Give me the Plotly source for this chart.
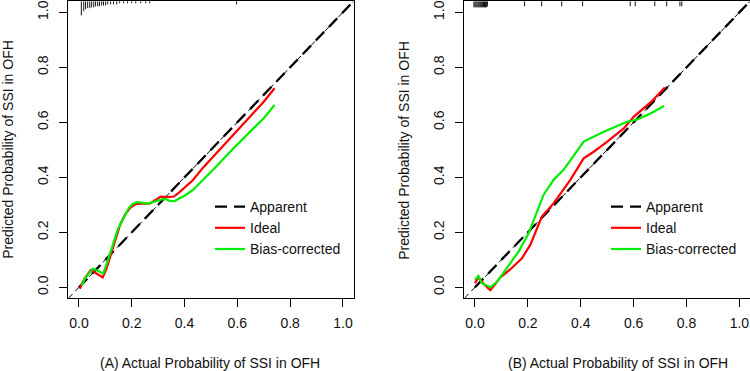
import plotly.graph_objects as go

# ---------------- data ----------------
# Panel A
a_ideal_x = [0.003, 0.02, 0.045, 0.065, 0.09, 0.105, 0.122, 0.14, 0.155, 0.175, 0.195, 0.215, 0.24, 0.27,
             0.29, 0.31, 0.335, 0.36, 0.38, 0.40, 0.432, 0.47, 0.52, 0.58, 0.647, 0.70, 0.741]
a_ideal_y = [-0.005, 0.03, 0.063, 0.05, 0.036, 0.07, 0.125, 0.18, 0.225, 0.265, 0.29, 0.303, 0.305, 0.305,
             0.318, 0.33, 0.328, 0.33, 0.345, 0.362, 0.39, 0.435, 0.487, 0.55, 0.62, 0.675, 0.724]
a_bias_x = [0.009, 0.025, 0.053, 0.075, 0.092, 0.11, 0.13, 0.148, 0.17, 0.19, 0.205, 0.223, 0.26, 0.3,
            0.324, 0.345, 0.362, 0.381, 0.40, 0.432, 0.47, 0.52, 0.58, 0.647, 0.70, 0.741]
a_bias_y = [0.007, 0.035, 0.068, 0.058, 0.05, 0.1, 0.16, 0.213, 0.255, 0.29, 0.304, 0.31, 0.304, 0.316,
            0.322, 0.314, 0.313, 0.324, 0.333, 0.354, 0.39, 0.439, 0.5, 0.566, 0.615, 0.663]
a_rug_x = [0.009, 0.018, 0.025, 0.033, 0.041, 0.048, 0.056, 0.063, 0.071, 0.078, 0.086, 0.093, 0.101,
           0.109, 0.12, 0.131, 0.143, 0.154, 0.169, 0.184, 0.2, 0.215, 0.234, 0.253, 0.268, 0.597]
a_rug_len = [0.051, 0.036, 0.029, 0.025, 0.025, 0.022, 0.022, 0.018, 0.018, 0.018, 0.015, 0.015, 0.015,
             0.011, 0.011, 0.011, 0.011, 0.007, 0.007, 0.007, 0.007, 0.007, 0.007, 0.007, 0.007, 0.011]

# Panel B
b_ideal_x = [0.0, 0.013, 0.035, 0.058, 0.075, 0.095, 0.133, 0.177, 0.209, 0.23, 0.253, 0.297, 0.36,
             0.411, 0.449, 0.499, 0.5625, 0.6, 0.667, 0.718]
b_ideal_y = [0.015, 0.036, 0.01, -0.01, 0.01, 0.035, 0.065, 0.105, 0.154, 0.205, 0.257, 0.305, 0.39,
             0.469, 0.493, 0.529, 0.578, 0.62, 0.675, 0.727]
b_bias_x = [0.0, 0.013, 0.026, 0.058, 0.083, 0.12, 0.165, 0.203, 0.228, 0.259, 0.297, 0.335, 0.411,
            0.487, 0.575, 0.613, 0.66, 0.715]
b_bias_y = [0.027, 0.041, 0.015, 0.0, 0.02, 0.069, 0.13, 0.196, 0.257, 0.336, 0.39, 0.427, 0.53,
            0.566, 0.602, 0.61, 0.63, 0.659]
b_rug_x = [-0.004, 0.0, 0.004, 0.008, 0.012, 0.016, 0.02, 0.024, 0.028, 0.032, 0.036, 0.04, 0.044, 0.047,
           0.1875, 0.252, 0.328, 0.407, 0.587, 0.606, 0.68, 0.725, 0.775, 0.782]
b_rug_len = [0.022, 0.022, 0.022, 0.022, 0.022, 0.022, 0.022, 0.022, 0.022, 0.022, 0.022, 0.022, 0.022,
             0.018, 0.018, 0.018, 0.018, 0.018, 0.018, 0.018, 0.018, 0.018, 0.018, 0.018]

diag_full = [-0.04, 1.04]
diag_thick = [0.0, 1.04]
tick_vals = [0.0, 0.2, 0.4, 0.6, 0.8, 1.0]
axis_range = [-0.04, 1.04]
rug_top = 1.04

legend_names = ["Apparent", "Ideal", "Bias-corrected"]
x_titles = ["(A) Actual Probability of SSI in OFH", "(B) Actual Probability of SSI in OFH"]
y_title = "Predicted Probability of SSI in OFH"

# ---------------- figure ----------------
W, H = 750, 371
FONT = "Liberation Sans, Arial, sans-serif"
TXT = "#111111"


def rug(xs, lens):
    rx, ry = [], []
    for x, l in zip(xs, lens):
        rx += [x, x, None]
        ry += [rug_top, rug_top - l, None]
    return rx, ry


fig = go.Figure()
panels = [
    ("x", "y", "legend", a_ideal_x, a_ideal_y, a_bias_x, a_bias_y, a_rug_x, a_rug_len),
    ("x2", "y2", "legend2", b_ideal_x, b_ideal_y, b_bias_x, b_bias_y, b_rug_x, b_rug_len),
]
for xa, ya, lg, ix, iy, bx, by, rx_, rl_ in panels:
    rx, ry = rug(rx_, rl_)
    fig.add_trace(go.Scatter(x=rx, y=ry, mode="lines", line=dict(color="#111111", width=1),
                             xaxis=xa, yaxis=ya, showlegend=False, hoverinfo="skip"))
    fig.add_trace(go.Scatter(x=diag_full, y=diag_full, mode="lines",
                             line=dict(color="black", width=1, dash="6px,4px"),
                             xaxis=xa, yaxis=ya, showlegend=False, hoverinfo="skip"))
    fig.add_trace(go.Scatter(x=diag_thick, y=diag_thick, mode="lines", name=legend_names[0],
                             line=dict(color="black", width=2.3, dash="12px,7px"),
                             xaxis=xa, yaxis=ya, legend=lg))
    fig.add_trace(go.Scatter(x=ix, y=iy, mode="lines", name=legend_names[1],
                             line=dict(color="#ff0000", width=2.2),
                             xaxis=xa, yaxis=ya, legend=lg))
    fig.add_trace(go.Scatter(x=bx, y=by, mode="lines", name=legend_names[2],
                             line=dict(color="#00ee00", width=2.2),
                             xaxis=xa, yaxis=ya, legend=lg))

ydom = [(H - 298.3) / H, (H - 1.3) / H]
common_axis = dict(range=axis_range, tickvals=tick_vals, tickformat=".1f", showgrid=False,
                   zeroline=False, showline=True, linecolor="black", linewidth=1, mirror=True,
                   ticks="outside", ticklen=8, tickcolor="black", tickwidth=1,
                   tickfont=dict(family=FONT, size=14, color=TXT), automargin=False)

fig.update_layout(
    width=W, height=H, margin=dict(l=0, r=0, t=0, b=0),
    paper_bgcolor="white", plot_bgcolor="white",
    font=dict(family=FONT, size=14, color=TXT),
    xaxis=dict(domain=[68.4 / W, 353.5 / W], anchor="y", ticklabelstandoff=4, **common_axis),
    yaxis=dict(domain=ydom, anchor="x", tickangle=-90, ticklabelstandoff=6, **common_axis),
    xaxis2=dict(domain=[464.4 / W, 1.0], anchor="y2", ticklabelstandoff=4, **common_axis),
    yaxis2=dict(domain=ydom, anchor="x2", tickangle=-90, ticklabelstandoff=6, **common_axis),
    legend=dict(x=210 / W, xanchor="left", y=(H - 191) / H, yanchor="top",
                bgcolor="rgba(0,0,0,0)", font=dict(family=FONT, size=14, color=TXT),
                tracegroupgap=0, itemwidth=30),
    legend2=dict(x=606 / W, xanchor="left", y=(H - 191) / H, yanchor="top",
                 bgcolor="rgba(0,0,0,0)", font=dict(family=FONT, size=14, color=TXT),
                 tracegroupgap=0, itemwidth=30),
    annotations=[
        dict(text=x_titles[0], x=210 / W, y=(H - 363) / H, xref="paper", yref="paper",
             showarrow=False, xanchor="center", yanchor="middle", font=dict(size=14)),
        dict(text=x_titles[1], x=618 / W, y=(H - 363) / H, xref="paper", yref="paper",
             showarrow=False, xanchor="center", yanchor="middle", font=dict(size=14)),
        dict(text=y_title, x=8 / W, y=(H - 149.8) / H, xref="paper", yref="paper", textangle=-90,
             showarrow=False, xanchor="center", yanchor="middle", font=dict(size=14)),
        dict(text=y_title, x=404 / W, y=(H - 149.8) / H, xref="paper", yref="paper", textangle=-90,
             showarrow=False, xanchor="center", yanchor="middle", font=dict(size=14)),
    ],
)

fig.write_html("out.html", config={"displayModeBar": False},
               post_script="document.body.style.margin='0';document.body.style.overflow='hidden';")
